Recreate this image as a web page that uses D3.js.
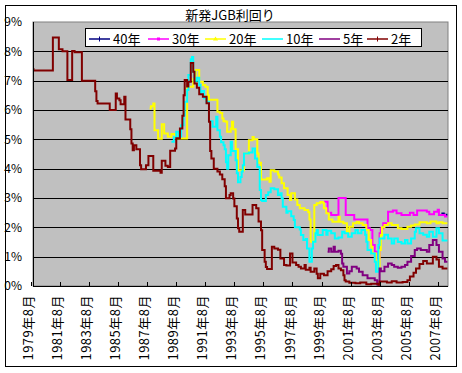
<!DOCTYPE html>
<html>
<head>
<meta charset="utf-8">
<script src="https://cdn.jsdelivr.net/npm/d3@7"></script>
<style>
  body { margin: 0; background: #fff; }
  svg text { font-family: "Noto Sans CJK JP", "Noto Sans", sans-serif; fill: #000; }
</style>
</head>
<body>
<svg width="462" height="373"></svg>
<script>
const title = '新発JGB利回り';
const seriesNames = ['40年', '30年', '20年', '10年', '5年', '2年'];
const seriesColors = ['#000080', '#ff00ff', '#ffff00', '#00ffff', '#800080', '#800000'];
const yTicks = [0, 1, 2, 3, 4, 5, 6, 7, 8, 9];
const xTicks = ['1979-08', '1981-08', '1983-08', '1985-08', '1987-08', '1989-08', '1991-08',
                '1993-08', '1995-08', '1997-08', '1999-08', '2001-08', '2003-08', '2005-08', '2007-08'];

// 利回り (%) : [年月, 値]  変化点のみ
const y40 = [['2007-11', 2.47], ['2008-01', 2.43], ['2008-04', 2.43]];

const y30 = [
  ['1999-10', 2.87], ['2000-01', 2.50], ['2000-04', 2.42], ['2000-10', 3.00], ['2001-04', 2.42],
  ['2001-11', 2.27], ['2002-10', 1.97], ['2002-12', 1.91], ['2003-02', 1.40], ['2003-04', 1.17],
  ['2003-06', 0.95], ['2003-08', 1.80], ['2003-09', 1.97], ['2003-11', 2.14], ['2004-03', 2.53],
  ['2004-07', 2.57], ['2004-10', 2.48], ['2005-02', 2.42], ['2005-09', 2.50], ['2005-12', 2.42],
  ['2006-03', 2.57], ['2006-11', 2.53], ['2007-01', 2.45], ['2007-05', 2.53], ['2007-08', 2.60],
  ['2007-09', 2.42], ['2008-02', 2.37], ['2008-04', 2.37]
];

const y20 = [
  ['1987-10', 6.05], ['1987-11', 6.13], ['1988-01', 6.22], ['1988-02', 5.31], ['1988-05', 5.02],
  ['1988-08', 5.51], ['1988-10', 5.20], ['1989-01', 5.09], ['1989-04', 5.18], ['1989-07', 5.05],
  ['1989-08', 5.03], ['1990-05', 6.79], ['1990-10', 7.06], ['1990-12', 7.36], ['1991-03', 6.96],
  ['1991-06', 6.85], ['1991-08', 6.79], ['1991-10', 6.50], ['1991-11', 6.35], ['1992-06', 5.94],
  ['1992-08', 5.90], ['1992-10', 5.71], ['1992-11', 5.62], ['1993-01', 5.60], ['1993-02', 5.26],
  ['1993-05', 5.37], ['1993-06', 5.60], ['1993-07', 5.34], ['1993-09', 4.66], ['1993-11', 3.95],
  ['1994-04', 4.52], ['1994-08', 4.97], ['1994-11', 5.08], ['1994-12', 5.00], ['1995-03', 4.52],
  ['1995-04', 4.20], ['1995-06', 3.63], ['1995-11', 3.67], ['1996-01', 3.55], ['1996-02', 3.95],
  ['1996-05', 3.90], ['1996-08', 3.80], ['1996-09', 3.70], ['1996-11', 3.50], ['1997-01', 3.33],
  ['1997-04', 3.10], ['1997-06', 2.93], ['1997-07', 3.16], ['1997-10', 2.95], ['1997-12', 2.76],
  ['1998-02', 2.65], ['1998-06', 2.59], ['1998-09', 2.52], ['1998-10', 2.27], ['1998-11', 1.51],
  ['1999-02', 2.76], ['1999-04', 2.82], ['1999-07', 2.86], ['1999-09', 2.84], ['1999-10', 2.65],
  ['1999-12', 2.48], ['2000-02', 2.27], ['2000-05', 2.19], ['2000-10', 2.36], ['2000-11', 2.19],
  ['2001-02', 2.14], ['2001-05', 1.85], ['2001-07', 2.02], ['2001-10', 2.14], ['2002-01', 2.19],
  ['2002-03', 2.14], ['2002-06', 2.08], ['2002-09', 1.91], ['2002-11', 1.57], ['2003-01', 1.34],
  ['2003-02', 1.11], ['2003-05', 0.83], ['2003-07', 0.54], ['2003-08', 1.23], ['2003-09', 1.74],
  ['2003-10', 2.00], ['2003-12', 2.08], ['2004-03', 2.14], ['2004-06', 2.08], ['2004-11', 1.97],
  ['2005-02', 1.94], ['2005-07', 2.02], ['2005-10', 2.06], ['2006-01', 2.10], ['2006-05', 2.17],
  ['2006-11', 2.14], ['2007-02', 2.20], ['2007-07', 2.14], ['2007-09', 2.17], ['2007-12', 2.14],
  ['2008-04', 2.14]
];

const y10 = [
  ['1989-04', 4.92], ['1989-06', 5.07], ['1989-08', 5.26], ['1989-10', 5.10], ['1989-12', 5.48],
  ['1990-02', 5.82], ['1990-03', 6.28], ['1990-05', 6.68], ['1990-06', 7.19], ['1990-08', 7.73],
  ['1990-09', 7.81], ['1990-10', 7.30], ['1990-11', 7.00], ['1991-01', 7.10], ['1991-03', 6.85],
  ['1991-04', 6.56], ['1991-05', 6.65], ['1991-07', 6.40], ['1991-09', 6.28], ['1991-11', 5.62],
  ['1992-02', 5.43], ['1992-05', 5.77], ['1992-06', 5.31], ['1992-08', 5.09], ['1992-09', 4.90],
  ['1992-11', 4.80], ['1992-12', 4.66], ['1993-01', 4.22], ['1993-02', 4.00], ['1993-03', 4.46],
  ['1993-05', 4.92], ['1993-06', 4.60], ['1993-09', 4.29], ['1993-10', 3.84], ['1993-11', 3.54],
  ['1994-01', 3.72], ['1994-02', 3.90], ['1994-03', 4.12], ['1994-04', 4.52], ['1994-08', 4.55],
  ['1994-11', 4.69], ['1995-01', 4.35], ['1995-03', 4.06], ['1995-05', 3.27], ['1995-06', 2.93],
  ['1995-07', 2.90], ['1995-10', 3.10], ['1995-12', 3.20], ['1996-02', 3.33], ['1996-05', 3.30],
  ['1996-08', 3.10], ['1996-10', 3.16], ['1996-11', 2.99], ['1996-12', 2.70], ['1997-03', 2.50],
  ['1997-04', 2.55], ['1997-07', 2.38], ['1997-09', 2.25], ['1997-10', 2.00], ['1998-02', 1.93],
  ['1998-03', 1.74], ['1998-05', 1.57], ['1998-07', 1.60], ['1998-08', 1.28], ['1998-10', 0.83],
  ['1998-12', 1.28], ['1999-01', 1.51], ['1999-03', 1.80], ['1999-04', 1.91], ['1999-05', 1.74],
  ['1999-09', 1.91], ['1999-12', 1.75], ['2000-01', 1.88], ['2000-04', 1.80], ['2000-07', 1.62],
  ['2000-10', 1.65], ['2001-01', 1.85], ['2001-03', 1.80], ['2001-06', 1.68], ['2001-09', 1.80],
  ['2001-12', 1.91], ['2002-02', 1.80], ['2002-05', 1.91], ['2002-08', 1.75], ['2002-09', 1.51],
  ['2002-10', 1.23], ['2003-01', 1.11], ['2003-04', 0.83], ['2003-05', 0.49], ['2003-07', 1.40],
  ['2003-08', 1.62], ['2003-12', 1.75], ['2004-03', 1.62], ['2004-06', 1.45], ['2004-08', 1.62],
  ['2004-11', 1.50], ['2005-02', 1.45], ['2005-05', 1.57], ['2005-07', 1.45], ['2005-10', 1.62],
  ['2006-01', 1.85], ['2006-02', 1.97], ['2006-05', 1.80], ['2006-08', 1.75], ['2006-11', 1.68],
  ['2007-01', 1.85], ['2007-04', 1.68], ['2007-07', 1.97], ['2007-09', 1.80], ['2007-12', 1.55],
  ['2008-04', 1.55]
];

const y5 = [
  ['2000-01', 1.17], ['2000-02', 1.28], ['2000-04', 1.17], ['2000-06', 1.34], ['2000-07', 1.17],
  ['2000-10', 1.20], ['2000-12', 1.10], ['2001-01', 0.77], ['2001-02', 0.66], ['2001-05', 0.43],
  ['2001-07', 0.50], ['2001-09', 0.66], ['2002-01', 0.60], ['2002-03', 0.49], ['2002-06', 0.37],
  ['2002-10', 0.26], ['2003-04', 0.20], ['2003-06', 0.05], ['2003-08', 0.60], ['2003-09', 0.50],
  ['2003-12', 0.66], ['2004-03', 0.77], ['2004-06', 0.72], ['2004-08', 0.66], ['2004-11', 0.62],
  ['2005-02', 0.66], ['2005-05', 0.72], ['2005-07', 0.83], ['2005-10', 1.02], ['2006-01', 1.23],
  ['2006-03', 1.28], ['2006-06', 1.23], ['2006-11', 1.17], ['2007-01', 1.40], ['2007-04', 1.57],
  ['2007-07', 1.40], ['2007-09', 1.17], ['2007-12', 0.94], ['2008-02', 0.83], ['2008-04', 0.83]
];

const y2 = [
  ['1979-08', 7.40], ['1979-10', 7.35], ['1981-02', 8.47], ['1981-07', 8.07], ['1981-10', 8.00],
  ['1982-02', 7.02], ['1982-06', 8.01], ['1982-08', 7.97], ['1983-02', 7.00], ['1984-01', 6.64],
  ['1984-02', 6.31], ['1984-03', 6.22], ['1985-01', 6.00], ['1985-06', 6.56], ['1985-07', 6.39],
  ['1985-09', 6.33], ['1985-10', 6.20], ['1986-01', 6.45], ['1986-02', 5.68], ['1986-06', 5.34],
  ['1986-07', 4.86], ['1986-08', 4.63], ['1986-09', 4.80], ['1986-11', 4.66], ['1987-02', 4.12],
  ['1987-03', 3.98], ['1987-07', 4.12], ['1987-09', 4.43], ['1988-01', 3.93], ['1988-07', 3.86],
  ['1988-08', 4.27], ['1988-11', 4.10], ['1989-01', 4.06], ['1989-03', 4.61], ['1989-07', 4.69],
  ['1989-08', 5.04], ['1989-11', 5.37], ['1990-01', 5.80], ['1990-02', 6.50], ['1990-03', 7.02],
  ['1990-05', 6.80], ['1990-06', 6.96], ['1990-08', 7.60], ['1990-10', 7.30], ['1990-11', 6.90],
  ['1991-01', 6.76], ['1991-03', 6.54], ['1991-06', 6.45], ['1991-09', 6.23], ['1991-11', 5.60],
  ['1991-12', 4.60], ['1992-01', 4.35], ['1992-03', 4.00], ['1992-06', 3.90], ['1992-08', 3.80],
  ['1992-10', 3.64], ['1992-12', 3.40], ['1993-01', 2.99], ['1993-04', 3.10], ['1993-05', 3.16],
  ['1993-07', 2.98], ['1993-08', 2.72], ['1993-10', 2.30], ['1993-11', 1.97], ['1993-12', 1.85],
  ['1994-03', 2.59], ['1994-05', 2.44], ['1994-11', 2.76], ['1995-02', 2.65], ['1995-04', 2.20],
  ['1995-06', 1.90], ['1995-07', 1.23], ['1995-09', 0.83], ['1995-10', 0.65], ['1995-11', 0.58],
  ['1996-03', 1.34], ['1996-05', 1.28], ['1996-08', 1.24], ['1996-10', 0.94], ['1997-01', 0.72],
  ['1997-03', 0.70], ['1997-06', 1.11], ['1997-08', 0.80], ['1997-11', 0.72], ['1998-01', 0.66],
  ['1998-03', 0.60], ['1998-06', 0.72], ['1998-07', 0.55], ['1998-10', 0.62], ['1998-11', 0.49],
  ['1999-02', 0.60], ['1999-04', 0.42], ['1999-05', 0.26], ['1999-07', 0.42], ['1999-10', 0.37],
  ['2000-01', 0.50], ['2000-04', 0.57], ['2000-06', 0.68], ['2000-08', 0.72], ['2000-10', 0.60],
  ['2000-12', 0.54], ['2001-02', 0.37], ['2001-03', 0.20], ['2001-04', 0.15], ['2001-07', 0.11],
  ['2001-12', 0.09], ['2002-04', 0.12], ['2002-09', 0.06], ['2003-01', 0.08], ['2003-07', 0.04],
  ['2003-08', 0.15], ['2004-02', 0.12], ['2004-06', 0.16], ['2004-10', 0.12], ['2005-03', 0.14],
  ['2005-07', 0.20], ['2005-09', 0.32], ['2005-12', 0.45], ['2006-02', 0.60], ['2006-05', 0.75],
  ['2006-08', 0.85], ['2006-11', 0.77], ['2007-04', 1.00], ['2007-07', 0.90], ['2007-09', 0.66],
  ['2007-12', 0.60], ['2008-04', 0.60]
];

const seriesData = [y40, y30, y20, y10, y5, y2];

const parseMonth = d3.timeParse('%Y-%m');
const plot = { left: 33, right: 448, top: 22, bottom: 286 };

const svg = d3.select('svg');

// 外枠
svg.append('rect')
  .attr('x', 5.5).attr('y', 5.5).attr('width', 451).attr('height', 361)
  .attr('fill', '#fff').attr('stroke', '#000');

const x = d3.scaleTime()
  .domain([parseMonth('1979-08'), parseMonth('2007-08')])
  .range([31, 437.7]);

const y = d3.scaleLinear()
  .domain([0, 9])
  .range([plot.bottom, plot.top]);

// プロットエリア
svg.append('rect')
  .attr('x', plot.left).attr('y', plot.top)
  .attr('width', plot.right - plot.left).attr('height', plot.bottom - plot.top)
  .attr('fill', '#c0c0c0').attr('stroke', '#808080');

svg.append('clipPath').attr('id', 'clip')
  .append('rect')
  .attr('x', plot.left).attr('y', plot.top)
  .attr('width', plot.right - plot.left).attr('height', plot.bottom - plot.top);

// 目盛線
svg.append('g')
  .attr('transform', `translate(${plot.left},0)`)
  .call(d3.axisLeft(y).tickValues(yTicks.filter(v => v > 0 && v < 9))
    .tickSize(-(plot.right - plot.left)).tickFormat(''))
  .call(g => g.select('.domain').remove())
  .selectAll('line').attr('stroke', '#000').attr('shape-rendering', 'crispEdges');

// Y軸ラベル
svg.append('g')
  .attr('transform', `translate(${plot.left},0)`)
  .call(d3.axisLeft(y).tickValues(yTicks).tickSize(0).tickPadding(11).tickFormat(d => d + '%'))
  .call(g => g.select('.domain').remove())
  .selectAll('text').attr('font-size', 12).attr('font-family', '"Noto Sans CJK JP", sans-serif');

// 系列
const line = d3.line()
  .x(d => x(parseMonth(d[0])))
  .y(d => y(d[1]))
  .curve(d3.curveStepAfter);

svg.append('g').attr('clip-path', 'url(#clip)')
  .selectAll('path')
  .data(seriesData)
  .join('path')
  .attr('d', d => line(d))
  .attr('fill', 'none')
  .attr('stroke', (d, i) => seriesColors[i])
  .attr('stroke-width', 2)
  .attr('stroke-linejoin', 'miter');

// 軸線
svg.append('line')
  .attr('x1', plot.left).attr('x2', plot.left).attr('y1', plot.top).attr('y2', plot.bottom)
  .attr('stroke', '#000').attr('shape-rendering', 'crispEdges');

// X軸
const xAxis = svg.append('g')
  .attr('transform', `translate(0,${plot.bottom})`)
  .call(d3.axisBottom(x).tickValues(xTicks.map(parseMonth)).tickSize(-4)
    .tickFormat(d3.timeFormat('%Y年%-m月')));
xAxis.select('.domain').remove();
xAxis.selectAll('line').attr('stroke', '#000').attr('shape-rendering', 'crispEdges');
xAxis.selectAll('text')
  .attr('transform', 'rotate(-90)')
  .attr('text-anchor', 'end')
  .attr('x', -9).attr('y', -3).attr('dy', '0.35em')
  .attr('font-size', 13).attr('letter-spacing', 0.5)
  .attr('font-family', '"Noto Sans CJK JP", sans-serif');

svg.append('line')
  .attr('x1', plot.left).attr('x2', plot.right).attr('y1', plot.bottom).attr('y2', plot.bottom)
  .attr('stroke', '#000').attr('shape-rendering', 'crispEdges');

// タイトル
svg.append('text')
  .attr('x', 230).attr('y', 15).attr('dy', '0.35em')
  .attr('text-anchor', 'middle').attr('font-size', 13)
  .text(title);

// 凡例
const legend = svg.append('g');
legend.append('rect')
  .attr('x', 85.5).attr('y', 28.5).attr('width', 336).attr('height', 18)
  .attr('fill', '#fff').attr('stroke', '#000');

const legendX = [89, 148, 205, 262, 319, 367];
const item = legend.selectAll('g.item')
  .data(seriesNames)
  .join('g').attr('class', 'item')
  .attr('transform', (d, i) => `translate(${legendX[i]},39)`);

item.append('line')
  .attr('x1', 0).attr('x2', 21).attr('y1', 0).attr('y2', 0)
  .attr('stroke', (d, i) => seriesColors[i]).attr('stroke-width', 1.5);

item.filter((d, i) => i === 0 || i === 5).append('line')
  .attr('x1', 10.5).attr('x2', 10.5).attr('y1', -2.5).attr('y2', 2.5)
  .attr('stroke', d => seriesColors[seriesNames.indexOf(d)]).attr('stroke-width', 1);
item.filter((d, i) => i === 1).append('rect')
  .attr('x', 9).attr('y', -1.5).attr('width', 3).attr('height', 3)
  .attr('fill', seriesColors[1]);
item.filter((d, i) => i === 2).append('path')
  .attr('d', 'M10.5,-2.5L13,1.5L8,1.5Z')
  .attr('fill', seriesColors[2]);

item.append('text')
  .attr('x', 24).attr('dy', '0.35em')
  .attr('font-size', 13)
  .text(d => d);
</script>
</body>
</html>
